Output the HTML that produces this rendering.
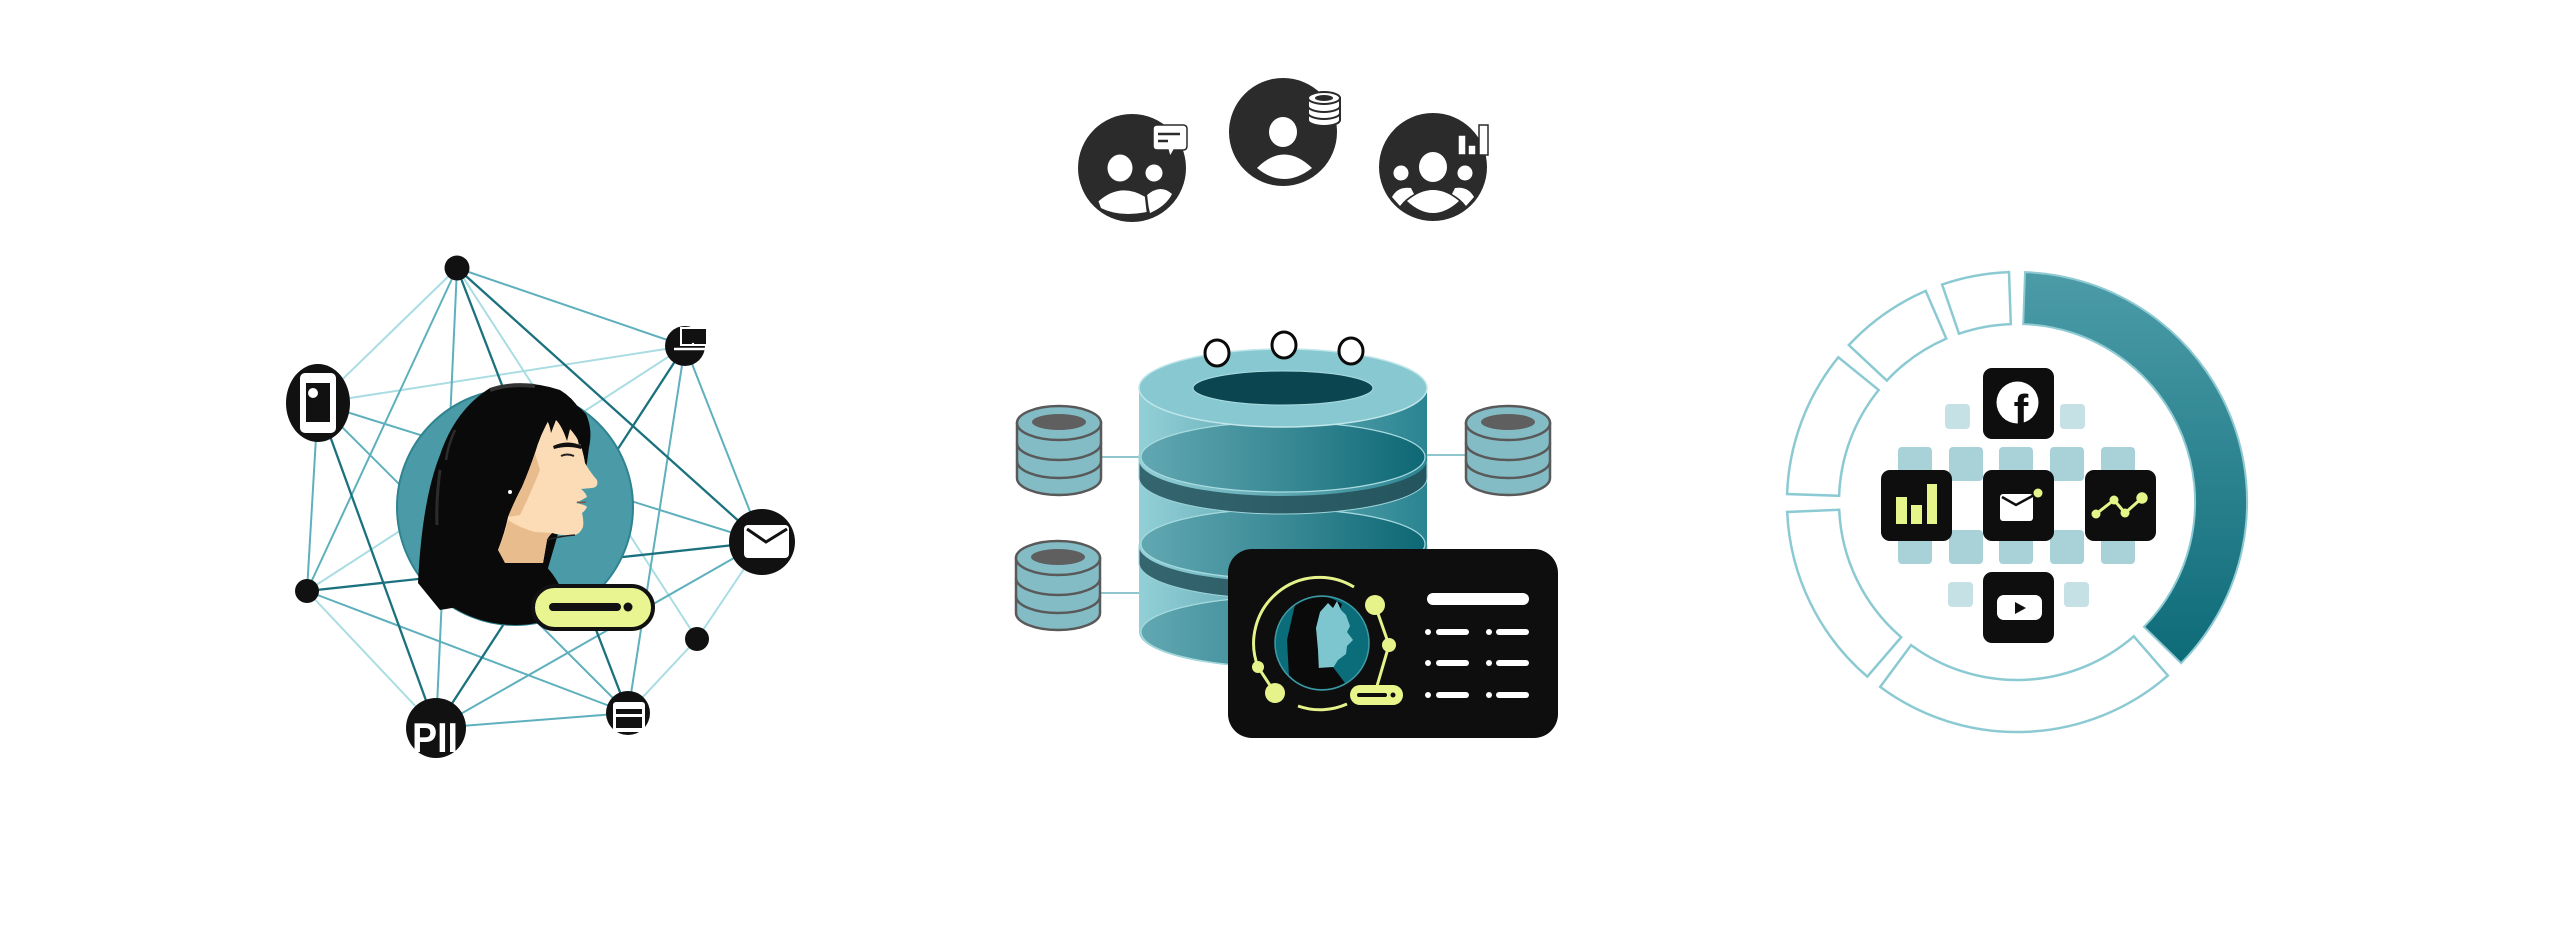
<!DOCTYPE html>
<html><head><meta charset="utf-8">
<style>html,body{margin:0;padding:0;background:#fff}svg{display:block}</style>
</head><body>
<svg width="2560" height="943" viewBox="0 0 2560 943" xmlns="http://www.w3.org/2000/svg" font-family="'Liberation Sans', sans-serif">
<defs>
  <linearGradient id="side" x1="1139" y1="0" x2="1427" y2="0" gradientUnits="userSpaceOnUse">
    <stop offset="0" stop-color="#93d0d7"/><stop offset="0.45" stop-color="#63abb5"/><stop offset="1" stop-color="#2a8491"/>
  </linearGradient>
  <linearGradient id="inner" x1="1139" y1="0" x2="1427" y2="0" gradientUnits="userSpaceOnUse">
    <stop offset="0" stop-color="#62a8b2"/><stop offset="0.5" stop-color="#3a8a96"/><stop offset="1" stop-color="#0d6774"/>
  </linearGradient>
  <linearGradient id="dring" x1="1139" y1="0" x2="1427" y2="0" gradientUnits="userSpaceOnUse">
    <stop offset="0" stop-color="#35666f"/><stop offset="1" stop-color="#24555e"/>
  </linearGradient>
  <linearGradient id="ringg" x1="0" y1="272" x2="0" y2="670" gradientUnits="userSpaceOnUse">
    <stop offset="0" stop-color="#4c9ca8"/><stop offset="1" stop-color="#0c6a77"/>
  </linearGradient>
  <clipPath id="wc"><circle cx="515" cy="507" r="118"/></clipPath>
  <clipPath id="cc"><circle cx="1322" cy="643" r="46"/></clipPath>
</defs>

<!-- ============ LEFT NETWORK ============ -->
<g stroke-linecap="round" fill="none">
  <!-- light -->
  <g stroke="#a9dde3" stroke-width="2">
    <line x1="457" y1="268" x2="318" y2="403"/>
    <line x1="457" y1="268" x2="697" y2="639"/>
    <line x1="318" y1="403" x2="685" y2="346"/>
    <line x1="307" y1="591" x2="685" y2="346"/>
    <line x1="307" y1="591" x2="436" y2="728"/>
    <line x1="628" y1="713" x2="697" y2="639"/>
    <line x1="762" y1="542" x2="697" y2="639"/>
  </g>
  <!-- medium -->
  <g stroke="#5eb0bd" stroke-width="2">
    <line x1="457" y1="268" x2="307" y2="591"/>
    <line x1="457" y1="268" x2="436" y2="728"/>
    <line x1="457" y1="268" x2="685" y2="346"/>
    <line x1="318" y1="403" x2="762" y2="542"/>
    <line x1="318" y1="403" x2="628" y2="713"/>
    <line x1="318" y1="403" x2="307" y2="591"/>
    <line x1="307" y1="591" x2="628" y2="713"/>
    <line x1="436" y1="728" x2="762" y2="542"/>
    <line x1="436" y1="728" x2="628" y2="713"/>
    <line x1="628" y1="713" x2="685" y2="346"/>
    <line x1="762" y1="542" x2="685" y2="346"/>
  </g>
  <!-- dark -->
  <g stroke="#1b717e" stroke-width="2.3">
    <line x1="457" y1="268" x2="628" y2="713"/>
    <line x1="457" y1="268" x2="762" y2="542"/>
    <line x1="318" y1="403" x2="436" y2="728"/>
    <line x1="307" y1="591" x2="762" y2="542"/>
    <line x1="436" y1="728" x2="685" y2="346"/>
  </g>
</g>

<!-- woman -->
<circle cx="515" cy="507" r="118" fill="#4a9aa8" stroke="#2f8390" stroke-width="2"/>
<!-- hair back -->
<path d="M418,583 Q422,500 440,455 Q455,410 490,388 Q525,378 560,390 Q585,405 590,440 L586,470 L562,520 L546,575 L500,600 L440,610 Z" fill="#0a0a0a"/>
<!-- shirt -->
<g clip-path="url(#wc)">
  <path d="M410,585 L505,563 L543,563 Q553,573 560,586 L645,625 L645,660 L395,660 Z" fill="#0a0a0a"/>
</g>
<!-- face -->
<path d="M551,416 Q572,425 581,446 Q584,456 585,463 Q590,472 597,480 Q599,487 592,488 L581,489 Q586,493 587,497 Q580,501 576,503 Q586,505 587,507 Q585,511 582,513 Q584,520 583,527 Q580,534 575,535 Q562,536 552,533 Q548,537 547,540 L543,563 L505,563 Q503,556 498,550 Q505,532 508,517 Q515,500 522,487 Q530,468 535,453 Q540,435 551,416 Z" fill="#fcdcb6"/>
<path d="M505,563 L498,550 Q505,535 508,520 Q520,528 535,532 L552,533 Q548,537 547,540 L543,563 Z" fill="#e9bc8d"/>
<path d="M508,517 Q515,500 522,487 Q530,468 535,453 L540,470 Q530,495 520,515 Z" fill="#e9bc8d"/>
<path d="M547,540 Q560,536 575,535" stroke="#222" stroke-width="1.5" fill="none"/>
<!-- bangs -->
<path d="M542,398 Q570,395 586,414 Q593,430 589,447 L583,437 L579,446 Q577,432 571,425 L567,441 Q562,426 556,420 L551,433 Q549,420 543,416 Z" fill="#0a0a0a"/>
<path d="M553,446 Q568,439 582,446 L581,449 Q568,445 554,449 Z" fill="#111"/>
<path d="M561,456 Q567,453 574,456" stroke="#222" stroke-width="2" fill="none"/>
<path d="M577,502 Q582,503 586,502" stroke="#8a4a3a" stroke-width="1.2" fill="none"/>
<circle cx="510" cy="492" r="2" fill="#fff"/>
<path d="M490,390 Q510,383 535,386" stroke="#333" stroke-width="4" fill="none"/>
<path d="M440,470 Q436,500 437,525" stroke="#2c2c2c" stroke-width="3" fill="none"/>
<path d="M455,430 Q448,445 446,460" stroke="#2c2c2c" stroke-width="2.5" fill="none"/>
<!-- pill -->
<rect x="533" y="586" width="120" height="43" rx="21.5" fill="#e9f590" stroke="#111" stroke-width="4"/>
<line x1="553" y1="607" x2="617" y2="607" stroke="#111" stroke-width="8" stroke-linecap="round"/>
<circle cx="628" cy="607" r="4.5" fill="#111"/>

<!-- nodes -->
<circle cx="457" cy="268" r="12.5" fill="#111"/>
<circle cx="307" cy="591" r="12" fill="#111"/>
<circle cx="697" cy="639" r="12" fill="#111"/>
<!-- phone -->
<ellipse cx="318" cy="403" rx="32" ry="39" fill="#111"/>
<rect x="300" y="373" width="36" height="60" rx="5" fill="#fff"/>
<rect x="306" y="383" width="24" height="39" fill="#111"/>
<circle cx="313" cy="393" r="5" fill="#fff"/>
<!-- laptop -->
<circle cx="685" cy="346" r="20" fill="#111"/>
<rect x="681" y="328" width="26" height="17" fill="#111" stroke="#fff" stroke-width="2"/>
<line x1="674" y1="349" x2="705" y2="349" stroke="#fff" stroke-width="2.5"/>
<circle cx="693" cy="344" r="1.2" fill="#fff"/>
<!-- mail -->
<circle cx="762" cy="542" r="33" fill="#111"/>
<rect x="744" y="525" width="45" height="33" rx="4" fill="#fff"/>
<polyline points="747,529 766,542 787,529" fill="none" stroke="#111" stroke-width="3"/>
<!-- PII -->
<circle cx="436" cy="728" r="30" fill="#111"/>
<text x="435" y="752" font-family="'Liberation Sans', sans-serif" font-weight="bold" font-size="42" fill="#fff" text-anchor="middle" textLength="46" lengthAdjust="spacingAndGlyphs">PII</text>
<!-- card node -->
<circle cx="628" cy="713" r="22" fill="#111"/>
<rect x="613" y="702" width="32" height="30" rx="3" fill="#fff"/>
<rect x="616" y="709" width="26" height="5" fill="#111"/>
<rect x="616" y="717" width="26" height="11" fill="#111"/>

<!-- ============ TOP PEOPLE ICONS ============ -->
<g fill="#2b2b2b">
  <circle cx="1132" cy="168" r="54"/>
  <circle cx="1283" cy="132" r="54"/>
  <circle cx="1433" cy="167" r="54"/>
</g>
<g fill="#fff">
  <!-- left -->
  <ellipse cx="1120" cy="168" rx="12.5" ry="13.5"/>
  <circle cx="1154" cy="173" r="8.5"/>
  <path d="M1146,196 Q1160,183 1172,194 Q1166,206 1150,213 Z"/>
  <path d="M1097,201 Q1120,180 1146,196 L1148,213 Q1120,219 1100,209 Z" stroke="#2b2b2b" stroke-width="2.5"/>
  <!-- middle -->
  <ellipse cx="1283" cy="132" rx="14" ry="15"/>
  <path d="M1257,168 Q1284,141 1312,168 Q1298,179 1284,179 Q1270,179 1257,168 Z"/>
  <!-- right -->
  <ellipse cx="1433" cy="167" rx="14" ry="15"/>
  <circle cx="1401" cy="173" r="7.5"/>
  <circle cx="1465" cy="173" r="7.5"/>
  <path d="M1392,197 Q1398,186 1411,188 L1414,194 Q1405,199 1400,206 Z"/>
  <path d="M1474,197 Q1468,186 1455,188 L1452,194 Q1461,199 1466,206 Z"/>
  <path d="M1407,201 Q1433,179 1459,201 Q1446,213 1433,213 Q1420,213 1407,201 Z"/>
</g>
<!-- chat bubble -->
<path d="M1157,125 L1183,125 Q1187,125 1187,129 L1187,146 Q1187,150 1183,150 L1174,150 L1170,157 L1168,150 L1157,150 Q1153,150 1153,146 L1153,129 Q1153,125 1157,125 Z" fill="#fff" stroke="#2b2b2b" stroke-width="1.5"/>
<line x1="1158" y1="134" x2="1180" y2="134" stroke="#2b2b2b" stroke-width="2.5"/>
<line x1="1158" y1="141" x2="1168" y2="141" stroke="#2b2b2b" stroke-width="2.5"/>
<!-- db icon -->
<g stroke="#2b2b2b" stroke-width="2">
  <path d="M1308,98 L1308,120 A16 6 0 0 0 1340,120 L1340,98 Z" fill="#fff"/>
  <ellipse cx="1324" cy="98" rx="16" ry="6" fill="#fff"/>
  <ellipse cx="1324" cy="98" rx="9" ry="3" fill="#2b2b2b" stroke="none"/>
  <path d="M1308,106 A16 6 0 0 0 1340,106" fill="none"/>
  <path d="M1308,113 A16 6 0 0 0 1340,113" fill="none"/>
</g>
<!-- bar chart -->
<g fill="#fff" stroke="#2b2b2b" stroke-width="1.5">
  <rect x="1458" y="135" width="8" height="20"/>
  <rect x="1468" y="145" width="8" height="10"/>
  <rect x="1479" y="125" width="9" height="30"/>
</g>

<!-- ============ CENTER DATABASE ============ -->
<g stroke="#8fc6ce" stroke-width="2">
  <line x1="1100" y1="457" x2="1141" y2="457"/>
  <line x1="1100" y1="593" x2="1145" y2="593"/>
  <line x1="1425" y1="455" x2="1466" y2="455"/>
</g>
<!-- layer 3 -->
<path d="M1139,563 L1139,632 A144 36 0 0 0 1427,632 L1427,563 Z" fill="url(#side)"/>
<ellipse cx="1283" cy="632" rx="142" ry="35" fill="url(#inner)" stroke="#a8dbe0" stroke-width="1.2"/>
<!-- ring 2 -->
<path d="M1139,545 L1139,563 A144 36 0 0 0 1427,563 L1427,545 Z" fill="url(#dring)" stroke="#9fd3da" stroke-width="1"/>
<!-- layer 2 -->
<path d="M1139,478 L1139,546 A144 36 0 0 0 1427,546 L1427,478 Z" fill="url(#side)"/>
<ellipse cx="1283" cy="544" rx="142" ry="35" fill="url(#inner)" stroke="#a8dbe0" stroke-width="1.2"/>
<!-- ring 1 -->
<path d="M1139,455 L1139,478 A144 36 0 0 0 1427,478 L1427,455 Z" fill="url(#dring)" stroke="#9fd3da" stroke-width="1"/>
<!-- layer 1 -->
<path d="M1139,388 L1139,460 A144 36 0 0 0 1427,460 L1427,388 Z" fill="url(#side)"/>
<ellipse cx="1283" cy="457" rx="142" ry="35" fill="url(#inner)" stroke="#a8dbe0" stroke-width="1.2"/>
<!-- top face -->
<ellipse cx="1283" cy="388" rx="144" ry="39" fill="#88c9d1" stroke="#c0e6ea" stroke-width="1.5"/>
<ellipse cx="1283" cy="388" rx="90" ry="17" fill="#0b4650" stroke="#a9dbe0" stroke-width="1"/>
<!-- small top circles -->
<g fill="#fff" stroke="#0a0a0a" stroke-width="3">
  <ellipse cx="1217" cy="353" rx="12" ry="13"/>
  <ellipse cx="1284" cy="345" rx="12" ry="13"/>
  <ellipse cx="1351" cy="351" rx="12" ry="13"/>
</g>
<!-- small DBs -->
<g stroke="#595959" stroke-width="2.5" fill="#84bcc6">
  <g>
    <path d="M1017,423 L1017,478 A42 17 0 0 0 1101,478 L1101,423 Z"/>
    <ellipse cx="1059" cy="423" rx="42" ry="17"/>
    <path d="M1017,443 A42 17 0 0 0 1101,443" fill="none"/>
    <path d="M1017,461 A42 17 0 0 0 1101,461" fill="none"/>
    <ellipse cx="1059" cy="422" rx="27" ry="8" fill="#5f5f5f" stroke="none"/>
  </g>
  <g>
    <path d="M1016,558 L1016,613 A42 17 0 0 0 1100,613 L1100,558 Z"/>
    <ellipse cx="1058" cy="558" rx="42" ry="17"/>
    <path d="M1016,578 A42 17 0 0 0 1100,578" fill="none"/>
    <path d="M1016,596 A42 17 0 0 0 1100,596" fill="none"/>
    <ellipse cx="1058" cy="557" rx="27" ry="8" fill="#5f5f5f" stroke="none"/>
  </g>
  <g>
    <path d="M1466,423 L1466,478 A42 17 0 0 0 1550,478 L1550,423 Z"/>
    <ellipse cx="1508" cy="423" rx="42" ry="17"/>
    <path d="M1466,443 A42 17 0 0 0 1550,443" fill="none"/>
    <path d="M1466,461 A42 17 0 0 0 1550,461" fill="none"/>
    <ellipse cx="1508" cy="422" rx="27" ry="8" fill="#5f5f5f" stroke="none"/>
  </g>
</g>

<!-- profile card -->
<rect x="1228" y="549" width="330" height="189" rx="24" fill="#0e0e0e"/>
<g fill="none" stroke="#e6f28a" stroke-width="3">
  <path d="M1275,693 L1258,667 A66 66 0 0 1 1354,587"/>
  <path d="M1298,706 A66 66 0 0 0 1347,704"/>
  <path d="M1375,605 L1389,645 L1377,686"/>
</g>
<circle cx="1322" cy="643" r="47" fill="#0b6d7a" stroke="#3f9aa6" stroke-width="1.5"/>
<g clip-path="url(#cc)">
  <path d="M1296,600 Q1322,590 1342,604 L1330,640 L1318,680 L1290,695 L1287,640 Z" fill="#0a0a0a"/>
  <path d="M1320,612 L1328,603 L1333,608 L1337,601 L1341,610 L1346,615 L1350,626 L1347,632 L1353,640 L1347,646 L1346,654 L1338,660 L1333,668 L1319,672 L1318,650 L1316,628 Z" fill="#7ec6cf"/>
  <path d="M1318,668 L1333,667 L1345,683 L1365,700 L1285,700 L1292,682 Z" fill="#0a0a0a"/>
</g>
<g fill="#e6f28a">
  <circle cx="1375" cy="605" r="10"/>
  <circle cx="1389" cy="645" r="7"/>
  <circle cx="1258" cy="667" r="6"/>
  <circle cx="1275" cy="693" r="10"/>
</g>
<rect x="1350" y="685" width="53" height="20" rx="10" fill="#e8f58a"/>
<line x1="1359" y1="695" x2="1385" y2="695" stroke="#0e0e0e" stroke-width="4" stroke-linecap="round"/>
<circle cx="1393" cy="695" r="2.5" fill="#0e0e0e"/>
<rect x="1427" y="593" width="102" height="12" rx="6" fill="#fff"/>
<g fill="#fff">
  <circle cx="1428" cy="632" r="3"/><circle cx="1489" cy="632" r="3"/>
  <circle cx="1428" cy="663" r="3"/><circle cx="1489" cy="663" r="3"/>
  <circle cx="1428" cy="695" r="3"/><circle cx="1489" cy="695" r="3"/>
</g>
<g stroke="#fff" stroke-width="6" stroke-linecap="round">
  <line x1="1439" y1="632" x2="1466" y2="632"/><line x1="1499" y1="632" x2="1526" y2="632"/>
  <line x1="1439" y1="663" x2="1466" y2="663"/><line x1="1499" y1="663" x2="1526" y2="663"/>
  <line x1="1439" y1="695" x2="1466" y2="695"/><line x1="1499" y1="695" x2="1526" y2="695"/>
</g>

<!-- ============ RIGHT RING ============ -->
<path d="M2025.0,272.1 A230 230 0 0 1 2181.1,663.2 L2144.0,626.8 A178 178 0 0 0 2023.2,324.1 Z" fill="url(#ringg)" stroke="#8fcad3" stroke-width="2"/>
<g fill="#fff" stroke="#8ccad3" stroke-width="2.5" stroke-linejoin="miter">
  <path d="M2167.9,675.6 A230 230 0 0 1 1880.2,686.9 L1911.1,645.1 A178 178 0 0 0 2133.8,636.3 Z"/>
  <path d="M1867.3,676.6 A230 230 0 0 1 1787.2,512.0 L1839.2,509.8 A178 178 0 0 0 1901.2,637.2 Z"/>
  <path d="M1787.1,494.0 A230 230 0 0 1 1838.3,357.3 L1878.7,390.0 A178 178 0 0 0 1839.1,495.8 Z"/>
  <path d="M1848.8,345.1 A230 230 0 0 1 1925.7,290.9 L1946.3,338.6 A178 178 0 0 0 1886.8,380.6 Z"/>
  <path d="M1942.1,284.5 A230 230 0 0 1 2009.0,272.1 L2010.8,324.1 A178 178 0 0 0 1959.0,333.7 Z"/>
</g>
<!-- light squares -->
<g fill="#a9d1d8">
  <rect x="1898" y="447" width="34" height="34" rx="4"/>
  <rect x="1949" y="447" width="34" height="34" rx="4"/>
  <rect x="1999" y="447" width="34" height="34" rx="4"/>
  <rect x="2050" y="447" width="34" height="34" rx="4"/>
  <rect x="2101" y="447" width="34" height="34" rx="4"/>
  <rect x="1898" y="530" width="34" height="34" rx="4"/>
  <rect x="1949" y="530" width="34" height="34" rx="4"/>
  <rect x="1999" y="530" width="34" height="34" rx="4"/>
  <rect x="2050" y="530" width="34" height="34" rx="4"/>
  <rect x="2101" y="530" width="34" height="34" rx="4"/>
</g>
<g fill="#c5e1e5">
  <rect x="1945" y="404" width="25" height="25" rx="4"/>
  <rect x="2060" y="404" width="25" height="25" rx="4"/>
  <rect x="1948" y="582" width="25" height="25" rx="4"/>
  <rect x="2064" y="582" width="25" height="25" rx="4"/>
</g>
<!-- tiles -->
<g fill="#0e0e0e">
  <rect x="1983" y="368" width="71" height="71" rx="9"/>
  <rect x="1881" y="470" width="71" height="71" rx="9"/>
  <rect x="1983" y="470" width="71" height="71" rx="9"/>
  <rect x="2085" y="470" width="71" height="71" rx="9"/>
  <rect x="1983" y="572" width="71" height="71" rx="9"/>
</g>
<!-- facebook -->
<circle cx="2017.5" cy="402.5" r="21" fill="#fff"/>
<text x="2021" y="425" font-family="'Liberation Sans', sans-serif" font-weight="bold" font-size="44" fill="#0e0e0e" text-anchor="middle">f</text>
<!-- bars -->
<g fill="#e6f58a">
  <rect x="1896" y="497" width="11" height="27"/>
  <rect x="1911" y="505" width="11" height="19"/>
  <rect x="1927" y="484" width="10" height="40"/>
</g>
<!-- mail -->
<rect x="2000" y="494" width="33" height="27" rx="3" fill="#fff"/>
<polyline points="2002,497 2016,505 2036,494" fill="none" stroke="#0e0e0e" stroke-width="2.5"/>
<circle cx="2038" cy="493" r="4.5" fill="#e6f58a"/>
<!-- trend -->
<polyline points="2096,514 2114,500 2125,513 2142,498" fill="none" stroke="#e6f58a" stroke-width="3"/>
<g fill="#e6f58a">
  <circle cx="2096" cy="514" r="4.5"/>
  <circle cx="2114" cy="500" r="4.5"/>
  <circle cx="2125" cy="513" r="4.5"/>
  <circle cx="2142" cy="498" r="5.7"/>
</g>
<!-- youtube -->
<rect x="1997" y="595" width="45" height="25" rx="7" fill="#fff"/>
<polygon points="2015,602 2026,608 2015,614" fill="#0e0e0e"/>
</svg>
</body></html>
